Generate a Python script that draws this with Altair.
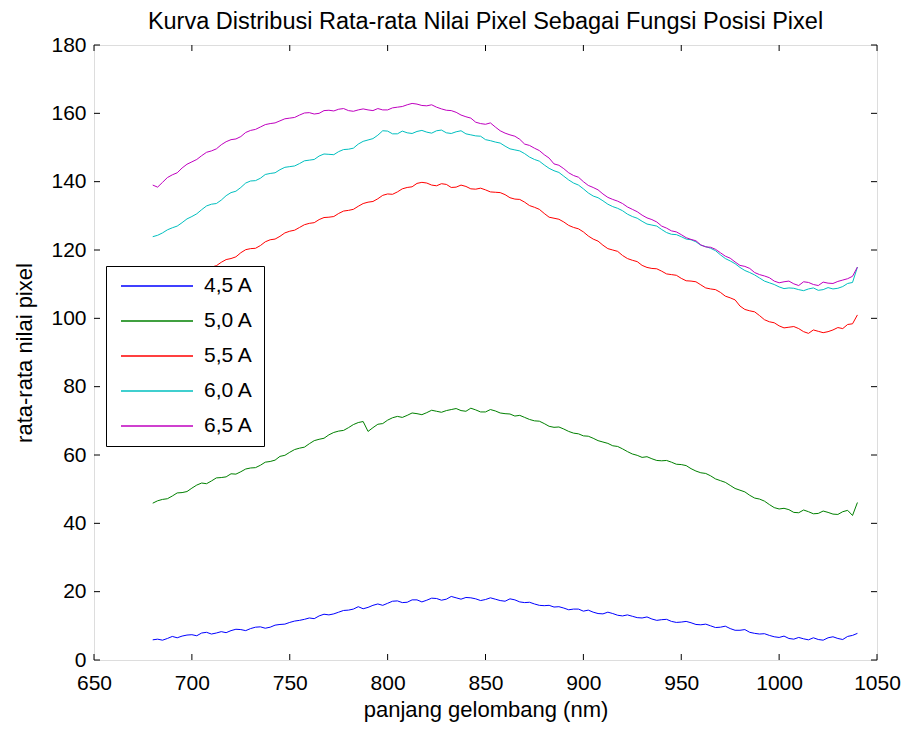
import altair as alt
import pandas as pd

# ---------------- data ----------------
# readings on a 5 nm grid (680 ... 1040) and at the in-between points (682.5 ... 1037.5)
wavelength = list(range(680, 1041, 5))
wavelength_mid = [w + 2.5 for w in range(680, 1036, 5)]

arus_4_5 = [5.9, 5.8, 6.9, 7.0, 7.4, 7.9, 7.6, 8.3, 8.6, 8.9,
            9.2, 9.7, 9.6, 10.4, 11.0, 11.6, 12.3, 12.9, 13.2, 14.0,
            14.6, 15.6, 15.4, 16.4, 16.6, 17.3, 16.9, 17.6, 17.5, 18.0,
            17.8, 18.2, 18.3, 17.9, 17.7, 17.8, 17.2, 17.6, 16.8, 16.4,
            15.9, 15.5, 15.2, 14.9, 14.3, 14.0, 13.5, 13.6, 12.9, 12.8,
            12.3, 12.0, 11.8, 11.3, 11.1, 10.9, 10.3, 10.0, 9.6, 9.2,
            8.7, 8.1, 7.6, 7.2, 6.6, 6.3, 6.6, 5.9, 6.0, 6.5,
            6.3, 6.9, 7.8]
arus_4_5_mid = [6.1, 6.3, 6.5, 7.3, 7.1, 8.1, 7.9, 8.0, 9.0, 8.6,
                9.6, 9.3, 10.2, 10.5, 11.4, 11.9, 12.1, 13.4, 13.5, 14.5,
                14.9, 15.0, 16.0, 16.0, 17.2, 16.8, 17.6, 17.0, 18.1, 17.5,
                18.6, 17.8, 18.2, 17.4, 18.2, 17.4, 17.9, 17.0, 16.9, 16.0,
                16.0, 15.6, 14.7, 14.9, 14.6, 13.6, 14.0, 13.1, 13.2, 12.4,
                12.6, 11.6, 11.9, 11.0, 11.3, 10.4, 10.5, 9.5, 9.9, 8.7,
                8.9, 7.8, 7.7, 6.8, 7.0, 6.1, 6.2, 6.5, 5.8, 6.8,
                6.0, 7.2]

arus_5_0 = [45.9, 47.0, 48.0, 49.0, 50.3, 51.8, 52.4, 53.4, 54.5, 55.1,
            56.2, 57.0, 58.1, 59.6, 60.8, 62.0, 63.3, 64.6, 65.9, 67.0,
            68.0, 69.5, 66.9, 69.0, 70.2, 71.3, 71.6, 72.1, 72.4, 72.8,
            73.0, 73.6, 72.8, 73.2, 72.6, 72.9, 72.1, 71.4, 71.0, 70.0,
            69.2, 68.1, 67.6, 66.4, 65.6, 64.9, 63.8, 62.7, 61.8, 60.3,
            59.3, 58.9, 58.3, 57.9, 57.2, 56.0, 54.8, 53.9, 52.5, 51.1,
            49.7, 48.2, 47.1, 45.5, 44.2, 44.0, 43.1, 43.4, 42.9, 43.2,
            42.6, 43.8, 46.1]
arus_5_0_mid = [46.6, 47.2, 48.9, 49.3, 51.2, 51.6, 53.3, 53.6, 54.4, 55.9,
                56.3, 57.9, 58.5, 59.9, 61.6, 62.3, 64.2, 64.9, 66.6, 67.2,
                68.9, 69.8, 68.0, 69.2, 70.9, 71.0, 72.3, 71.8, 73.1, 72.5,
                73.3, 73.0, 73.7, 72.6, 73.3, 72.3, 72.0, 71.6, 70.4, 69.9,
                68.4, 68.2, 66.9, 66.2, 65.5, 64.2, 63.4, 62.5, 61.0, 59.9,
                59.5, 58.4, 58.4, 57.3, 56.9, 55.3, 54.6, 53.0, 52.0, 50.2,
                49.2, 47.4, 46.5, 44.6, 44.4, 43.2, 43.9, 42.8, 43.6, 42.7,
                43.4, 42.3]

arus_5_5 = [105.0, 106.8, 108.5, 110.0, 111.6, 113.0, 115.0, 116.4, 117.5, 119.2,
            120.4, 121.3, 123.0, 124.0, 125.5, 126.6, 127.8, 128.9, 129.6, 130.7,
            131.6, 132.8, 134.0, 135.0, 136.4, 137.0, 138.3, 139.5, 139.6, 138.8,
            139.2, 138.4, 138.6, 137.8, 137.6, 136.9, 136.2, 134.9, 134.0, 132.5,
            130.7, 129.3, 128.2, 126.6, 125.3, 123.2, 121.4, 120.0, 118.4, 117.0,
            115.5, 114.6, 113.8, 112.8, 111.7, 110.9, 109.8, 108.6, 107.6, 106.0,
            103.6, 102.2, 100.8, 99.0, 97.8, 97.4, 97.0, 95.6, 96.2, 96.1,
            97.3, 98.2, 101.0]
arus_5_5_mid = [106.1, 107.4, 109.6, 110.5, 112.5, 113.6, 115.4, 117.2, 118.0, 120.1,
                120.5, 122.4, 123.2, 125.0, 125.8, 127.4, 128.0, 129.5, 129.8, 131.4,
                131.9, 133.6, 134.2, 136.0, 136.3, 137.9, 138.5, 139.8, 139.0, 139.4,
                138.3, 139.0, 137.9, 138.1, 137.0, 136.8, 135.3, 134.8, 133.0, 131.9,
                129.6, 129.0, 127.2, 126.2, 124.1, 122.6, 120.4, 119.6, 117.5, 116.6,
                114.9, 114.5, 113.0, 112.6, 111.0, 110.7, 108.9, 108.4, 106.5, 105.4,
                102.6, 101.9, 99.6, 98.7, 97.2, 97.6, 96.1, 96.6, 95.8, 96.6,
                97.0, 98.4]

arus_6_0 = [123.9, 125.0, 126.5, 128.0, 129.8, 131.8, 133.4, 134.6, 136.8, 138.3,
            140.2, 141.0, 142.4, 143.5, 144.4, 145.3, 146.3, 147.5, 148.0, 148.8,
            149.5, 151.0, 152.2, 153.6, 154.8, 154.0, 154.3, 154.7, 154.5, 154.9,
            154.3, 154.6, 154.0, 153.4, 152.3, 151.6, 150.4, 149.3, 148.2, 146.5,
            144.9, 143.2, 141.6, 139.6, 137.9, 135.8, 134.4, 132.7, 131.5, 129.8,
            128.4, 127.3, 126.0, 124.6, 123.9, 123.0, 121.4, 120.5, 118.6, 116.8,
            114.9, 113.4, 111.8, 110.4, 109.2, 108.9, 108.4, 108.6, 108.2, 109.0,
            108.8, 110.2, 115.0]
arus_6_0_mid = [124.3, 125.9, 127.0, 129.1, 130.6, 132.9, 133.6, 135.9, 137.2, 139.6,
                140.3, 142.1, 142.6, 144.2, 144.6, 146.1, 146.5, 148.1, 147.9, 149.4,
                149.8, 151.8, 152.6, 154.9, 154.0, 154.8, 154.1, 155.0, 154.2, 155.1,
                154.1, 154.9, 153.7, 153.3, 152.0, 151.3, 149.6, 149.0, 147.2, 146.0,
                143.9, 142.7, 140.5, 139.0, 136.7, 135.3, 133.4, 132.2, 130.5, 129.3,
                127.6, 127.0, 125.1, 124.5, 123.2, 122.4, 121.0, 119.8, 117.5, 116.0,
                114.0, 112.7, 110.9, 109.9, 108.7, 108.8, 108.1, 108.9, 108.4, 108.6,
                109.3, 110.5]

arus_6_5 = [139.0, 139.8, 142.0, 144.0, 145.8, 147.6, 149.0, 150.8, 152.3, 153.2,
            155.0, 156.0, 157.0, 157.8, 158.6, 159.5, 160.2, 160.0, 160.9, 161.2,
            160.8, 161.0, 161.0, 161.4, 161.0, 161.8, 162.5, 162.7, 162.2, 161.8,
            160.9, 160.3, 159.0, 157.4, 156.8, 156.0, 154.2, 153.3, 151.0, 149.8,
            147.9, 145.2, 143.8, 141.8, 140.0, 138.3, 136.4, 134.8, 133.6, 131.9,
            130.2, 128.9, 127.0, 125.6, 124.5, 123.1, 121.5, 120.8, 119.2, 117.6,
            115.5, 114.6, 112.8, 111.9, 110.4, 110.9, 109.6, 110.5, 109.6, 110.3,
            110.8, 111.6, 115.0]
arus_6_5_mid = [138.4, 141.2, 142.6, 145.1, 146.5, 148.6, 149.6, 151.7, 152.5, 154.4,
                155.3, 156.7, 157.2, 158.4, 158.8, 160.1, 159.8, 160.8, 160.7, 161.4,
                160.6, 161.3, 160.8, 161.0, 161.6, 162.0, 162.9, 162.3, 162.5, 161.3,
                160.8, 159.5, 158.6, 157.0, 157.2, 154.9, 153.7, 152.4, 150.6, 149.1,
                146.9, 144.8, 142.6, 141.3, 138.9, 137.6, 135.4, 134.3, 132.6, 131.2,
                129.4, 128.2, 126.4, 125.3, 123.6, 122.7, 120.9, 120.2, 118.2, 116.5,
                115.2, 113.4, 112.4, 110.9, 110.7, 110.1, 110.7, 109.9, 110.6, 110.2,
                111.2, 112.3]

series_names = ["4,5 A", "5,0 A", "5,5 A", "6,0 A", "6,5 A"]
series_values = [arus_4_5, arus_5_0, arus_5_5, arus_6_0, arus_6_5]
series_values_mid = [arus_4_5_mid, arus_5_0_mid, arus_5_5_mid, arus_6_0_mid, arus_6_5_mid]
series_colors = ["#0000FF", "#008000", "#FF0000", "#00BFBF", "#BF00BF"]

x_ticks = [650, 700, 750, 800, 850, 900, 950, 1000, 1050]
y_ticks = [0, 20, 40, 60, 80, 100, 120, 140, 160, 180]

title_text = "Kurva Distribusi Rata-rata Nilai Pixel Sebagai Fungsi Posisi Pixel"
x_title = "panjang gelombang (nm)"
y_title = "rata-rata nilai pixel"

# ---------------- build tables ----------------
rows = []
for name, vals, mids in zip(series_names, series_values, series_values_mid):
    assert len(vals) == len(wavelength), name
    assert len(mids) == len(wavelength_mid), name
    for w, v in zip(wavelength, vals):
        rows.append({"wl": w, "val": v, "arus": name})
    for w, v in zip(wavelength_mid, mids):
        rows.append({"wl": w, "val": v, "arus": name})
df = pd.DataFrame(rows).sort_values(["arus", "wl"]).reset_index(drop=True)

xt = pd.DataFrame({"wl": x_ticks})
yt = pd.DataFrame({"val": y_ticks})

W, H = 783, 615
TICK = 6
FONT = "Liberation Sans"

xscale = alt.Scale(domain=[650, 1050], nice=False, zero=False)
yscale = alt.Scale(domain=[0, 180], nice=False, zero=False)

x_axis = alt.Axis(values=x_ticks, title=x_title, format="d", ticks=False, tickSize=0,
                  labelPadding=12, titlePadding=6, grid=False, domain=False,
                  labelFontSize=21, titleFontSize=22, labelFont=FONT, titleFont=FONT,
                  titleFontWeight="normal", labelColor="black", titleColor="black",
                  labelFlush=False)
y_axis = alt.Axis(values=y_ticks, title=y_title, format="d", ticks=False, tickSize=0,
                  labelPadding=8, titlePadding=14, grid=False, domain=False,
                  labelFontSize=21, titleFontSize=22, labelFont=FONT, titleFont=FONT,
                  titleFontWeight="normal", labelColor="black", titleColor="black",
                  labelFlush=False)

lines = alt.Chart(df).mark_line(strokeWidth=1).encode(
    x=alt.X("wl:Q", scale=xscale, axis=x_axis),
    y=alt.Y("val:Q", scale=yscale, axis=y_axis),
    color=alt.Color(
        "arus:N",
        scale=alt.Scale(domain=series_names, range=series_colors),
        legend=alt.Legend(
            title=None, orient="none", legendX=12, legendY=221,
            symbolType="stroke", symbolSize=5184, symbolStrokeWidth=1.5,
            clipHeight=20, rowPadding=14, padding=10, symbolOffset=4,
            labelOffset=10, labelFontSize=21, labelFont=FONT, labelColor="black",
            fillColor="white", strokeColor="black",
        ),
    ),
    detail="arus:N",
)

bottom_ticks = alt.Chart(xt).mark_rule(color="black", strokeWidth=1).encode(
    x=alt.X("wl:Q", scale=xscale, axis=x_axis), y=alt.value(H), y2=alt.value(H - TICK))
top_ticks = alt.Chart(xt).mark_rule(color="black", strokeWidth=1).encode(
    x=alt.X("wl:Q", scale=xscale, axis=x_axis), y=alt.value(0), y2=alt.value(TICK))
left_ticks = alt.Chart(yt).mark_rule(color="black", strokeWidth=1).encode(
    y=alt.Y("val:Q", scale=yscale, axis=y_axis), x=alt.value(0), x2=alt.value(TICK))
right_ticks = alt.Chart(yt).mark_rule(color="black", strokeWidth=1).encode(
    y=alt.Y("val:Q", scale=yscale, axis=y_axis), x=alt.value(W - TICK), x2=alt.value(W))

chart = alt.layer(lines, bottom_ticks, top_ticks, left_ticks, right_ticks).properties(
    width=W, height=H,
    title=alt.TitleParams(text=title_text, fontSize=23.5, font=FONT, fontWeight="normal",
                          anchor="middle", color="black", offset=1),
    autosize=alt.AutoSizeParams(type="none"),
    padding={"left": 86, "top": 37, "right": 25, "bottom": 66},
).configure_view(
    stroke="black", strokeWidth=1, fill="white"
).configure(background="white")

chart.save("out.html", embed_options={"renderer": "svg", "actions": False})
